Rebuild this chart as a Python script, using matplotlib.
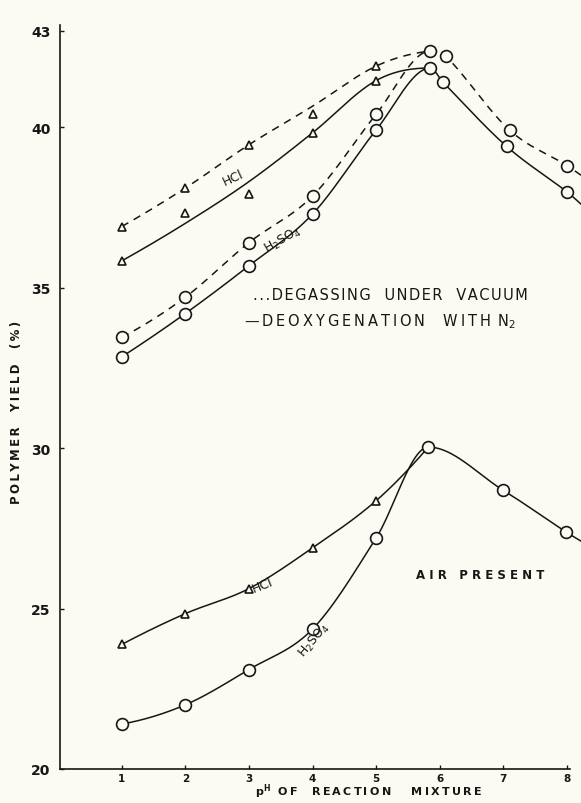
import numpy as np
import matplotlib
matplotlib.use("Agg")
import matplotlib.pyplot as plt

# ---------------- data ----------------
# Degassing under vacuum (dashed)
ph_vac_hcl = [1, 2, 3, 4, 5]
yield_vac_hcl = [36.9, 38.1, 39.45, 40.42, 41.9]
curve_ph_vac_hcl = [1, 2, 3, 4, 5, 5.85]
curve_vac_hcl = [36.9, 38.1, 39.45, 40.65, 41.9, 42.37]
ph_vac_h2so4 = [1, 2, 3, 4, 5, 5.85, 6.1, 7.1, 8.0, 8.22]
yield_vac_h2so4 = [33.45, 34.7, 36.4, 37.85, 40.4, 42.37, 42.2, 39.9, 38.8, 38.5]

# Deoxygenation with N2 (solid)
ph_n2_hcl = [1, 2, 3, 4, 5]
yield_n2_hcl = [35.83, 37.32, 37.92, 39.82, 41.45]
curve_ph_n2_hcl = [1, 2, 3, 4, 5, 5.85]
curve_n2_hcl = [35.83, 37.0, 38.3, 39.82, 41.45, 41.84]
ph_n2_h2so4 = [1, 2, 3, 4, 5, 5.85, 6.05, 7.05, 8.0, 8.22]
yield_n2_h2so4 = [32.84, 34.19, 35.68, 37.29, 39.91, 41.84, 41.4, 39.4, 37.98, 37.6]

# Air present (solid)
ph_air_hcl = [1, 2, 3, 4, 5, 5.82]
yield_air_hcl = [23.88, 24.84, 25.62, 26.89, 28.36, 30.03]
ph_air_h2so4 = [1, 2, 3, 4, 5, 5.82, 7.0, 7.98, 8.22]
yield_air_h2so4 = [21.4, 22.0, 23.1, 24.36, 27.2, 30.03, 28.68, 27.39, 27.1]

x_ticks = [1, 2, 3, 4, 5, 6, 7, 8]
y_ticks = [20, 25, 30, 35, 40, 43]

BG = "#fbfbf3"
INK = "#161616"


def smooth(x, y, n=400):
    """Shape-preserving cubic Hermite curve through the points."""
    x = np.asarray(x, float)
    y = np.asarray(y, float)
    h = np.diff(x)
    d = np.diff(y) / h
    m = np.zeros_like(y)
    for k in range(1, len(x) - 1):
        if d[k - 1] * d[k] <= 0:
            m[k] = 0.0
        else:
            mk = (y[k + 1] - y[k - 1]) / (x[k + 1] - x[k - 1])
            lim = 3 * min(abs(d[k - 1]), abs(d[k]))
            m[k] = np.sign(mk) * min(abs(mk), lim)
    if len(x) > 2:
        m0 = ((2 * h[0] + h[1]) * d[0] - h[0] * d[1]) / (h[0] + h[1])
        m[0] = m0 if m0 * d[0] > 0 else 0.0
        mn = ((2 * h[-1] + h[-2]) * d[-1] - h[-1] * d[-2]) / (h[-1] + h[-2])
        m[-1] = mn if mn * d[-1] > 0 else 0.0
    else:
        m[:] = d[0]
    xs = np.linspace(x[0], x[-1], n)
    idx = np.clip(np.searchsorted(x, xs) - 1, 0, len(x) - 2)
    t = (xs - x[idx]) / h[idx]
    h00 = 2 * t**3 - 3 * t**2 + 1
    h10 = t**3 - 2 * t**2 + t
    h01 = -2 * t**3 + 3 * t**2
    h11 = t**3 - t**2
    ys = h00 * y[idx] + h10 * h[idx] * m[idx] + h01 * y[idx + 1] + h11 * h[idx] * m[idx + 1]
    return xs, ys


fig = plt.figure(figsize=(5.81, 8.04), dpi=100, facecolor=BG)
ax = fig.add_axes([60 / 581, 34 / 804, 521 / 581, 744 / 804], facecolor=BG)

xmin, xmax = 0.03, 8.22
ax.set_xlim(xmin, xmax)
ax.set_ylim(20, 43.18)

lw = 1.1
dash = (0, (5, 4))


def curve(px, py, ls):
    xs, ys = smooth(px, py)
    ax.plot(xs, ys, color=INK, lw=lw, linestyle=ls, zorder=2, clip_on=False)


curve(curve_ph_vac_hcl, curve_vac_hcl, dash)
curve(ph_vac_h2so4, yield_vac_h2so4, dash)
curve(curve_ph_n2_hcl, curve_n2_hcl, "-")
curve(ph_n2_h2so4, yield_n2_h2so4, "-")
curve(ph_air_hcl, yield_air_hcl, "-")
curve(ph_air_h2so4, yield_air_h2so4, "-")

tri = dict(marker="^", ms=5.5, mfc=BG, mec=INK, mew=1.2, ls="none", zorder=3)
circ = dict(marker="o", ms=8.5, mfc=BG, mec=INK, mew=1.2, ls="none", zorder=3)

ax.plot(ph_vac_hcl, yield_vac_hcl, **tri)
ax.plot(ph_n2_hcl, yield_n2_hcl, **tri)
ax.plot(ph_air_hcl[:5], yield_air_hcl[:5], **tri)
ax.plot(ph_vac_h2so4[:-1], yield_vac_h2so4[:-1], **circ)
ax.plot(ph_n2_h2so4[:-1], yield_n2_h2so4[:-1], **circ)
ax.plot(ph_air_h2so4[:-1], yield_air_h2so4[:-1], **circ)

# axes styling
for s in ("top", "right"):
    ax.spines[s].set_visible(False)
for s in ("left", "bottom"):
    ax.spines[s].set_color(INK)
    ax.spines[s].set_linewidth(1.2)
ax.spines["bottom"].set_bounds(xmin, 8.05)

ax.set_xticks(x_ticks)
ax.set_xticklabels([str(v) for v in x_ticks], fontsize=7.5, fontweight="bold")
ax.set_yticks(y_ticks)
ax.set_yticklabels([str(v) for v in y_ticks], fontsize=10, fontweight="bold")
ax.tick_params(axis="both", direction="in", length=3, width=1, color=INK, labelcolor=INK)
ax.tick_params(axis="y", pad=7)
ax.tick_params(axis="x", pad=3)


def spaced(s, sep="\u200a"):
    return sep.join(s)


def ftext(px, py, s, **kw):
    fig.text(px / 581, 1 - py / 804, s, color=INK, ha="center", va="center", **kw)


ftext(17, 412, spaced("POLYMER  YIELD  (%)", "\u2009"), rotation=90, fontsize=8.5, fontweight="bold")
ftext(368, 792, r"$\mathbf{p^{H}}$  " + spaced("OF  REACTION   MIXTURE", "\u2009"),
      fontsize=8, fontweight="bold")

ftext(390, 296, spaced("...DEGASSING  UNDER  VACUUM"), fontsize=10.5)
ftext(380, 322, spaced("—DEOXYGENATION  WITH ", "\u200a\u200a") + r"N$_2$", fontsize=10.5)
ftext(480, 576, "A I R   P R E S E N T", fontsize=8.5, fontweight="bold")

ftext(233, 178, "HCl", rotation=25, fontsize=9)
ftext(283, 240, r"H$_2$SO$_4$", rotation=30, fontsize=9)
ftext(262, 586, "HCl", rotation=22, fontsize=9)
ftext(314, 641, r"H$_2$SO$_4$", rotation=50, fontsize=9)

fig.savefig("out.png", dpi=100, facecolor=BG)
